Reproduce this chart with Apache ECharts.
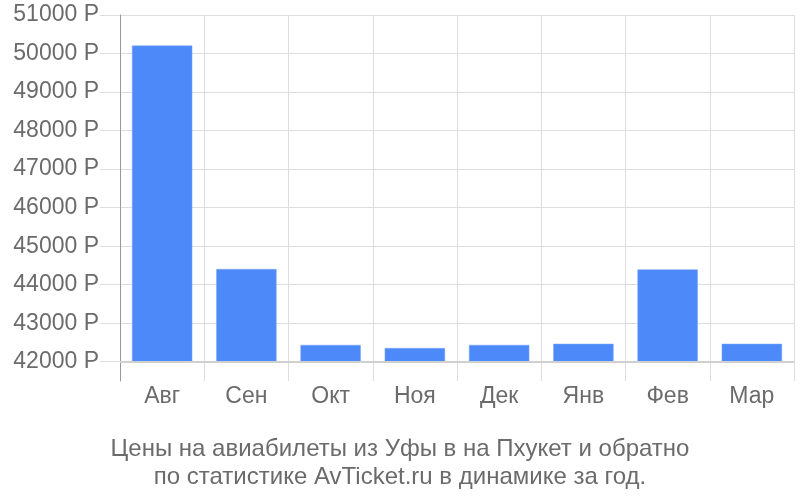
<!DOCTYPE html>
<html>
<head>
<meta charset="utf-8">
<script src="https://cdn.jsdelivr.net/npm/echarts@6/dist/echarts.min.js"></script>
<style>html,body{margin:0;padding:0;background:#fff}#c{width:800px;height:500px}</style>
</head>
<body>
<div id="c"></div>
<script>
var categories = ['Авг', 'Сен', 'Окт', 'Ноя', 'Дек', 'Янв', 'Фев', 'Мар'];
var prices = [50200, 44400, 42430, 42350, 42430, 42460, 44390, 42460];
var yTicks = [42000, 43000, 44000, 45000, 46000, 47000, 48000, 49000, 50000, 51000];
var yMin = 41500, yMax = 51000;
var barBase = 42000;
var titleLines = ['Цены на авиабилеты из Уфы в на Пхукет и обратно', 'по статистике AvTicket.ru в динамике за год.'];

var chart = echarts.init(document.getElementById('c'), null, {renderer: 'canvas'});
var font = '"Liberation Sans", Arial, sans-serif';
var barData = categories.map(function (c, i) { return [i, prices[i]]; });
chart.setOption({
  animation: false,
  title: {
    text: titleLines.join('\n'),
    left: 'center', top: 430,
    textStyle: {fontFamily: font, fontSize: 24, fontWeight: 'normal', color: '#6b6b6b', lineHeight: 28}
  },
  grid: {left: 120, right: 6, top: 15, bottom: 119, containLabel: false},
  xAxis: {
    type: 'category', data: categories,
    axisLine: {show: false}, axisTick: {show: false},
    splitLine: {show: true, lineStyle: {color: '#dddddd', width: 1}},
    axisLabel: {fontFamily: font, fontSize: 23, color: '#6b6b6b', margin: 4}
  },
  yAxis: {
    type: 'value', min: yMin, max: yMax,
    axisLine: {show: true, lineStyle: {color: '#999999', width: 1}},
    axisTick: {show: true, length: 20, customValues: yTicks, lineStyle: {color: '#dddddd'}},
    splitLine: {show: true, lineStyle: {color: '#dddddd', width: 1}},
    axisLabel: {customValues: yTicks, fontFamily: font, fontSize: 23, color: '#6b6b6b', margin: 21,
      formatter: function (v) { return v + ' Р'; }}
  },
  series: [{
    type: 'custom',
    data: barData,
    encode: {x: 0, y: 1},
    itemStyle: {color: '#4d89f9'},
    renderItem: function (params, api) {
      var idx = api.value(0);
      var top = api.coord([idx, api.value(1)]);
      var bottom = api.coord([idx, barBase]);
      var w = api.size([1, 0])[0] * 0.71;
      return {
        type: 'rect',
        shape: {x: top[0] - w / 2, y: top[1], width: w, height: bottom[1] - top[1]},
        style: {fill: '#4d89f9', stroke: '#7aa7fb', lineWidth: 0.5}
      };
    },
    markLine: {silent: true, symbol: 'none', label: {show: false},
      lineStyle: {color: '#d0d0d0', type: 'solid', width: 2},
      data: [{yAxis: barBase}]}
  }]
});
</script>
</body>
</html>
